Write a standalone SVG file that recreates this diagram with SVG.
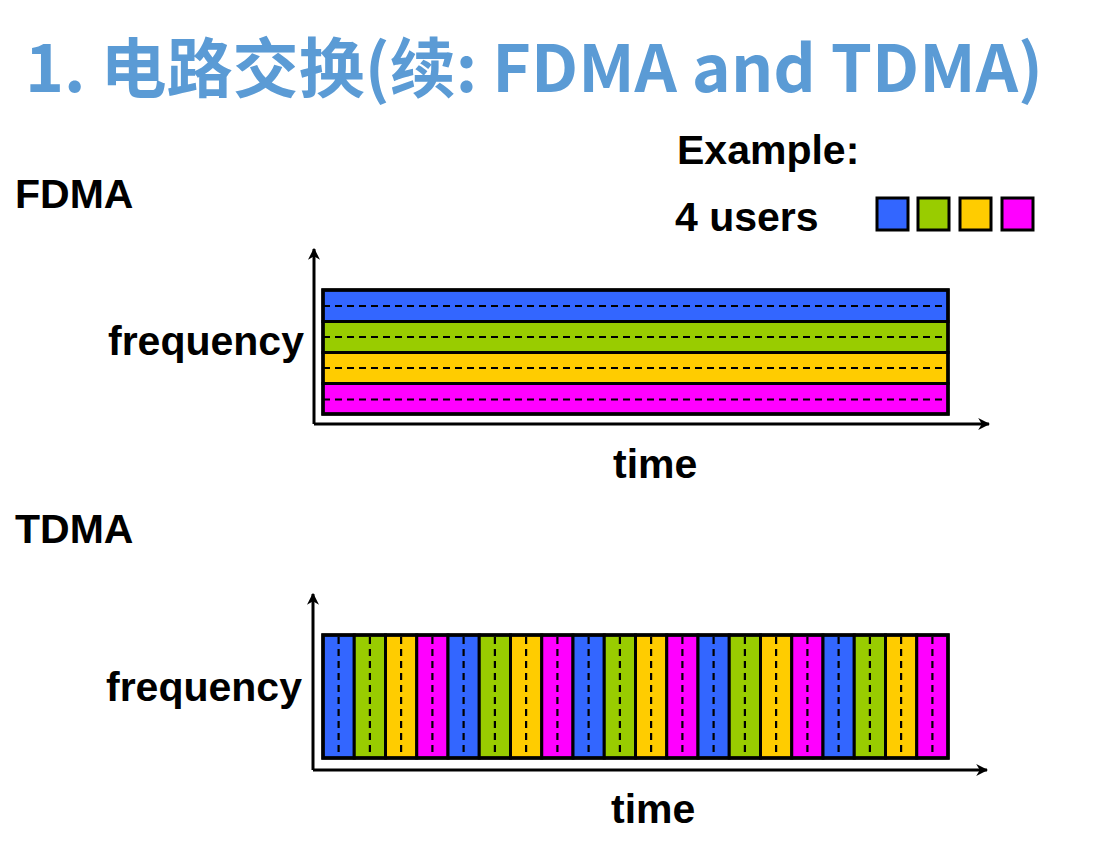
<svg xmlns="http://www.w3.org/2000/svg" width="1100" height="844" viewBox="0 0 1100 844">
<style>
.t{font-family:"Liberation Sans",Arial,sans-serif;font-weight:bold;font-size:41px;fill:#000}
.title{font-family:"Microsoft YaHei","Noto Sans CJK SC","Noto Sans",sans-serif;font-weight:bold;font-size:65px;fill:#5B9BD5}
.b{fill:#3366FF}.g{fill:#99CC00}.y{fill:#FFCC00}.m{fill:#FF00FF}
.cell{stroke:#000;stroke-width:3}
.dash{stroke:#000;stroke-width:2.2;stroke-dasharray:7 5;fill:none}
.axis{stroke:#000;stroke-width:3;fill:none}
</style>
<defs>
<marker id="arr" viewBox="0 0 10 10" refX="9" refY="5" markerWidth="4" markerHeight="4" orient="auto" markerUnits="strokeWidth">
<path d="M0,0 L10,5 L0,10 L3,5 z" fill="#000"/>
</marker>
</defs>
<text class="title" x="25" y="92" textLength="1018" lengthAdjust="spacingAndGlyphs">1. 电路交换(续: FDMA and TDMA)</text>
<text class="t" x="677" y="164">Example:</text>
<text class="t" x="675" y="231">4 users</text>
<g id="legend">
<rect class="b cell" x="877" y="198" width="31" height="32"/>
<rect class="g cell" x="918" y="198" width="31" height="32"/>
<rect class="y cell" x="960" y="198" width="31" height="32"/>
<rect class="m cell" x="1002" y="198" width="31" height="32"/>
</g>
<g id="fdma">
<text class="t" x="15" y="208">FDMA</text>
<text class="t" x="108" y="355">frequency</text>
<text class="t" x="613" y="478">time</text>
<rect class="b cell" x="323" y="290" width="625" height="31.5"/>
<rect class="g cell" x="323" y="321.5" width="625" height="31"/>
<rect class="y cell" x="323" y="352.5" width="625" height="31"/>
<rect class="m cell" x="323" y="383.5" width="625" height="30.5"/>
<rect x="323" y="290" width="625" height="124" fill="none" stroke="#000" stroke-width="3.5"/>
<line class="dash" x1="323" y1="306" x2="948" y2="306"/>
<line class="dash" x1="323" y1="337" x2="948" y2="337"/>
<line class="dash" x1="323" y1="368" x2="948" y2="368"/>
<line class="dash" x1="323" y1="399.5" x2="948" y2="399.5"/>
</g>
<g id="tdma">
<text class="t" x="15" y="543">TDMA</text>
<text class="t" x="106" y="701">frequency</text>
<text class="t" x="611" y="823">time</text>
<rect class="b cell" x="323" y="635" width="31.25" height="123"/>
<rect class="g cell" x="354.25" y="635" width="31.25" height="123"/>
<rect class="y cell" x="385.5" y="635" width="31.25" height="123"/>
<rect class="m cell" x="416.75" y="635" width="31.25" height="123"/>
<rect class="b cell" x="448" y="635" width="31.25" height="123"/>
<rect class="g cell" x="479.25" y="635" width="31.25" height="123"/>
<rect class="y cell" x="510.5" y="635" width="31.25" height="123"/>
<rect class="m cell" x="541.75" y="635" width="31.25" height="123"/>
<rect class="b cell" x="573" y="635" width="31.25" height="123"/>
<rect class="g cell" x="604.25" y="635" width="31.25" height="123"/>
<rect class="y cell" x="635.5" y="635" width="31.25" height="123"/>
<rect class="m cell" x="666.75" y="635" width="31.25" height="123"/>
<rect class="b cell" x="698" y="635" width="31.25" height="123"/>
<rect class="g cell" x="729.25" y="635" width="31.25" height="123"/>
<rect class="y cell" x="760.5" y="635" width="31.25" height="123"/>
<rect class="m cell" x="791.75" y="635" width="31.25" height="123"/>
<rect class="b cell" x="823" y="635" width="31.25" height="123"/>
<rect class="g cell" x="854.25" y="635" width="31.25" height="123"/>
<rect class="y cell" x="885.5" y="635" width="31.25" height="123"/>
<rect class="m cell" x="916.75" y="635" width="31.25" height="123"/>
<rect x="323" y="635" width="625" height="123" fill="none" stroke="#000" stroke-width="3.5"/>
<path class="dash" stroke-dasharray="8 6" d="M338.6,637V758M369.9,637V758M401.1,637V758M432.4,637V758M463.6,637V758M494.9,637V758M526.1,637V758M557.4,637V758M588.6,637V758M619.9,637V758M651.1,637V758M682.4,637V758M713.6,637V758M744.9,637V758M776.1,637V758M807.4,637V758M838.6,637V758M869.9,637V758M901.1,637V758M932.4,637V758"/>
</g>
<g id="connectors">
<path class="axis" d="M314,424 V249" marker-end="url(#arr)"/>
<path class="axis" d="M314,424 H989" marker-end="url(#arr)"/>
<path class="axis" d="M313,770 V594" marker-end="url(#arr)"/>
<path class="axis" d="M313,770 H987" marker-end="url(#arr)"/>
</g>
</svg>
